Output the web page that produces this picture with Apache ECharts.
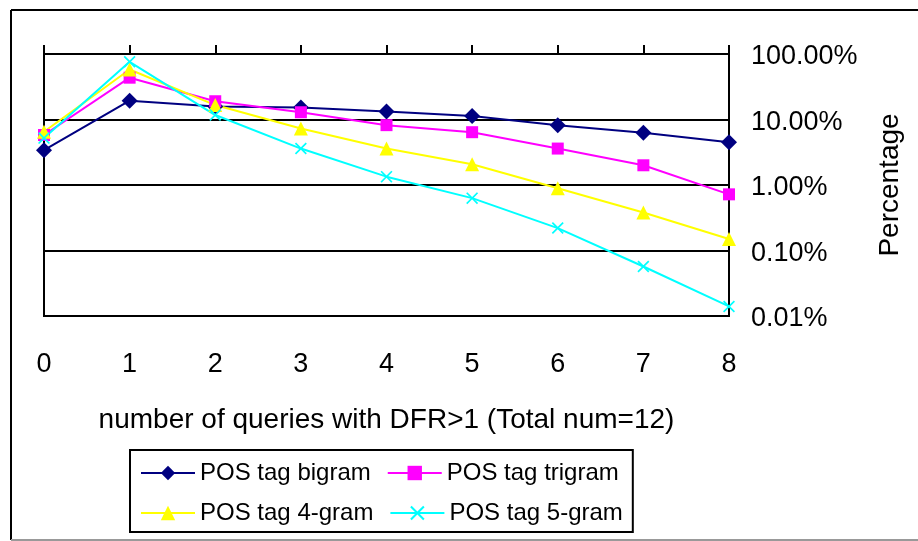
<!DOCTYPE html>
<html>
<head>
<meta charset="utf-8">
<script src="https://cdn.jsdelivr.net/npm/echarts@6/dist/echarts.min.js"></script>
<style>
  html, body { margin: 0; padding: 0; background: #fff; }
  #main { width: 918px; height: 541px; }
</style>
</head>
<body>
<div id="main"></div>
<script>
// values, in percent
var categories = ['0', '1', '2', '3', '4', '5', '6', '7', '8'];
var bigram = [3.4, 19.4, 15.8, 15.3, 13.2, 11.3, 8.2, 6.3, 4.5];
var trigram = [5.8, 43.5, 19, 12.9, 8.2, 6.4, 3.6, 2.0, 0.72];
var fourgram = [6.5, 58, 16.6, 7.3, 3.6, 2.07, 0.89, 0.38, 0.15];
var fivegram = [5.2, 76, 11.7, 3.6, 1.34, 0.63, 0.22, 0.057, 0.014];
var seriesNames = ['POS tag bigram', 'POS tag trigram', 'POS tag 4-gram', 'POS tag 5-gram'];

var font = 'Liberation Sans, Arial, sans-serif';
var crossPath = 'path://M0,1L1,0L5,4L9,0L10,1L6,5L10,9L9,10L5,6L1,10L0,9L4,5Z';

var chart = echarts.init(document.getElementById('main'), null, { renderer: 'canvas' });

function lineSeries(name, data, color, symbol, size) {
    return {
        name: name,
        type: 'line',
        data: data,
        symbol: symbol,
        symbolSize: size,
        showAllSymbol: true,
        lineStyle: { color: color, width: 2 },
        itemStyle: { color: color },
        animation: false
    };
}

var option = {
    backgroundColor: '#fff',
    textStyle: { fontFamily: font, color: '#000' },
    // outer chart border
    graphic: [
        { type: 'line', shape: { x1: 11, y1: 10, x2: 918, y2: 10 }, style: { stroke: '#000', lineWidth: 2 } },
        { type: 'line', shape: { x1: 11, y1: 10, x2: 11, y2: 540 }, style: { stroke: '#000', lineWidth: 2 } },
        { type: 'line', shape: { x1: 11, y1: 540, x2: 918, y2: 540 }, style: { stroke: '#999', lineWidth: 2 } }
    ],
    grid: {
        left: 44,
        right: 189,
        top: 54,
        bottom: 225,
        show: true,
        borderColor: '#000',
        borderWidth: 2,
        backgroundColor: '#fff',
        outerBoundsMode: 'none'
    },
    legend: {
        data: seriesNames,
        left: 130,
        top: 450,
        width: 490,
        padding: [11, 10, 7, 10],
        itemGap: 16,
        itemWidth: 54,
        itemHeight: 18,
        borderColor: '#000',
        borderWidth: 2,
        textStyle: { fontFamily: font, fontSize: 24, color: '#000' }
    },
    xAxis: [
        {
            type: 'category',
            data: categories,
            position: 'bottom',
            boundaryGap: false,
            axisLine: { lineStyle: { color: '#000', width: 2 } },
            axisTick: { show: false },
            axisLabel: { fontFamily: font, fontSize: 27, color: '#000', margin: 35 },
            name: 'number of queries with DFR>1 (Total num=12)',
            nameLocation: 'middle',
            nameGap: 90,
            nameMoveOverlap: false,
            nameTextStyle: { fontFamily: font, fontSize: 28, color: '#000' }
        },
        {
            type: 'category',
            data: categories,
            position: 'top',
            boundaryGap: false,
            axisLine: { lineStyle: { color: '#000', width: 2 } },
            axisTick: { show: true, length: 9, lineStyle: { color: '#000', width: 2 } },
            axisLabel: { show: false }
        }
    ],
    yAxis: {
        type: 'log',
        logBase: 10,
        min: 0.01,
        max: 100,
        position: 'right',
        axisLine: { show: true, lineStyle: { color: '#000', width: 2 } },
        axisTick: { show: true, inside: true, length: 9, lineStyle: { color: '#000', width: 2 } },
        splitLine: { show: true, lineStyle: { color: '#000', width: 2 } },
        axisLabel: {
            fontFamily: font,
            fontSize: 27,
            color: '#000',
            margin: 22,
            verticalAlign: 'top',
            lineHeight: 6,
            formatter: function (v) { return v.toFixed(2) + '%'; }
        },
        name: 'Percentage',
        nameLocation: 'middle',
        nameRotate: 90,
        nameGap: 147,
        nameMoveOverlap: false,
        nameTextStyle: { fontFamily: font, fontSize: 28, color: '#000' }
    },
    series: [
        lineSeries(seriesNames[0], bigram, '#000080', 'diamond', 16),
        lineSeries(seriesNames[1], trigram, '#ff00ff', 'rect', 12),
        lineSeries(seriesNames[2], fourgram, '#ffff00', 'triangle', 14),
        lineSeries(seriesNames[3], fivegram, '#00ffff', crossPath, 12)
    ]
};

chart.setOption(option);
</script>
</body>
</html>
